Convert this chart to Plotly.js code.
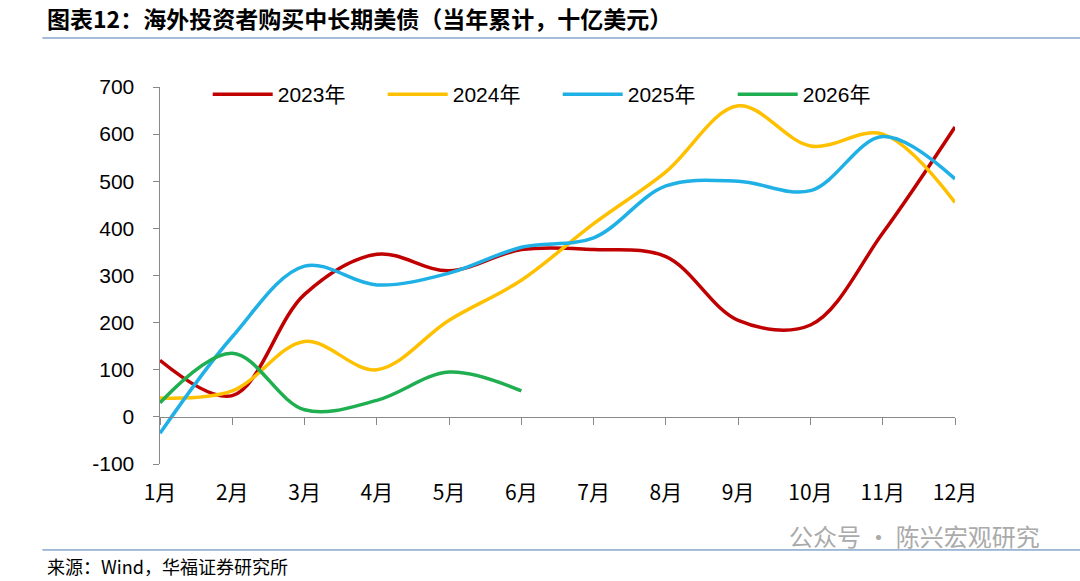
<!DOCTYPE html>
<html>
<head>
<meta charset="utf-8">
<script src="https://cdn.plot.ly/plotly-3.0.1.min.js"></script>
<style>html,body{margin:0;padding:0;background:#fff}</style>
</head>
<body>
<div id="chart" style="width:1080px;height:581px"></div>
<script>
var months = ['1月','2月','3月','4月','5月','6月','7月','8月','9月','10月','11月','12月'];
var y2023 = [120, 45, 260, 345, 310, 355, 355, 340, 205, 195, 390, 615];
var y2024 = [40, 55, 160, 100, 205, 290, 410, 520, 660, 575, 600, 455];
var y2025 = [-35, 170, 320, 280, 305, 360, 380, 490, 500, 480, 595, 505];
var y2026 = [30, 135, 15, 35, 95, 55];
var yTicks = [-100, 0, 100, 200, 300, 400, 500, 600, 700];

function trace(name, y, color){
    return {x: months.slice(0, y.length), y: y, name: name, type: 'scatter', mode: 'lines',
        line: {color: color, width: 3.5, shape: 'spline', smoothing: 1.0}};
}

var data = [
    trace('2023年', y2023, '#c00000'),
    trace('2024年', y2024, '#ffc000'),
    trace('2025年', y2025, '#1fb0e6'),
    trace('2026年', y2026, '#1fae50'),
    // dummy trace to carry the y=0 axis line
    {x: months, y: months.map(function(){return null;}), xaxis: 'x2', showlegend: false, hoverinfo: 'skip'}
];

var cjk = '"Noto Sans CJK SC", Arial, sans-serif';
var layout = {
    width: 1080, height: 581,
    margin: {l: 160, r: 125, t: 87, b: 117},
    paper_bgcolor: '#fff', plot_bgcolor: '#fff',
    font: {family: 'Arial, "Noto Sans CJK SC", sans-serif', size: 21, color: '#000'},
    showlegend: true,
    legend: {orientation: 'h', x: 0.06, y: 0.98, xanchor: 'left', yanchor: 'middle',
        font: {size: 21}, traceorder: 'normal', itemwidth: 60, entrywidth: 100, entrywidthmode: 'pixels',
        bgcolor: 'rgba(0,0,0,0)'},
    xaxis: {range: [0, 11], showline: false, ticks: '', showgrid: false, zeroline: false,
        tickfont: {size: 21, family: cjk}, ticklabelstandoff: 14, fixedrange: true},
    xaxis2: {overlaying: 'x', matches: 'x', anchor: 'free', position: 0.125, range: [0, 11],
        showline: true, linecolor: '#888', linewidth: 1.5, ticks: 'outside', ticklen: 7,
        tickcolor: '#888', showticklabels: false, showgrid: false, zeroline: false},
    yaxis: {range: [-100, 700], tickvals: yTicks, ticktext: yTicks.map(String),
        showline: true, linecolor: '#888', linewidth: 1.5, ticklabelstandoff: 14,
        ticks: 'outside', ticklen: 6, tickcolor: '#888', showgrid: false, zeroline: false,
        tickfont: {size: 21}},
    shapes: [
        {type: 'line', xref: 'paper', yref: 'paper', x0: -0.148, x1: 1.16, y0: 1.13, y1: 1.13,
            line: {color: '#4a7ab5', width: 1}},
        {type: 'line', xref: 'paper', yref: 'paper', x0: -0.148, x1: 1.16, y0: -0.228, y1: -0.228,
            line: {color: '#4a7ab5', width: 1}}
    ],
    annotations: [
        {text: '<b>图表12：海外投资者购买中长期美债（当年累计，十亿美元）</b>', xref: 'paper', yref: 'paper',
            x: -0.145, y: 1.183, xanchor: 'left', yanchor: 'middle', showarrow: false,
            font: {size: 23, family: cjk, color: '#000'}},
        {text: '来源：Wind，华福证券研究所', xref: 'paper', yref: 'paper',
            x: -0.145, y: -0.27, xanchor: 'left', yanchor: 'middle', showarrow: false,
            font: {size: 18, family: cjk, color: '#000'}},
        {text: '公众号 · 陈兴宏观研究', xref: 'paper', yref: 'paper',
            x: 1.11, y: -0.19, xanchor: 'right', yanchor: 'middle', showarrow: false,
            font: {size: 24, family: cjk, color: '#aaa'}}
    ]
};

Plotly.newPlot('chart', data, layout, {displayModeBar: false, staticPlot: true});
</script>
</body>
</html>
